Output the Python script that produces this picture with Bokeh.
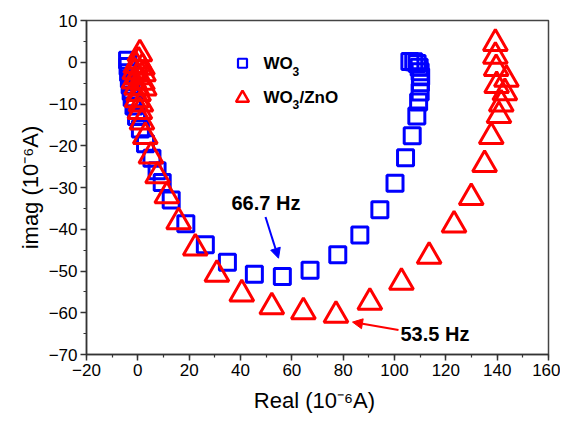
from bokeh.plotting import figure
from bokeh.models import Range1d, SingleIntervalTicker, Arrow, NormalHead, Label, Title
from bokeh.embed import file_html
from bokeh.resources import INLINE

# ---- data ----
wo3_real = [-4.0, -3.8, -3.6, -3.3, -3.0, -2.6, -2.2, -1.5, -0.5, 1.0, 3.0, 5.5, 7.5,
            9.5, 13.0, 18.7, 26.3, 34.9, 45.4, 56.3, 67.1, 77.9, 86.5, 94.3, 100.2,
            104.3, 106.9, 108.7, 109.4, 110.0, 110.1, 110.2, 110.0, 109.6, 108.8, 107.5, 106.0]
wo3_imag = [0.5, -1.0, -2.5, -4.0, -5.5, -7.0, -8.5, -10.5, -13.0, -16.0, -19.5, -23.0, -26.0,
            -28.8, -33.0, -38.7, -43.7, -47.9, -50.8, -51.3, -49.8, -46.1, -41.4, -35.3, -29.0,
            -22.9, -17.6, -12.9, -9.5, -7.1, -4.9, -3.5, -2.3, -1.2, -0.3, 0.1, 0.2]

zno_real = [0.8, 0.3, -0.8, 1.8, -1.2, 2.2, 0.0, -1.5, 1.8, -0.5, 2.5, 0.3, -0.3, 1.2, 0.8,
            1.6, 2.9, 5.1, 7.7, 11.3, 15.9, 22.4, 30.8, 40.5, 52.2, 64.5, 77.2, 90.4,
            102.7, 113.5, 123.2, 129.9, 135.1, 137.7, 140.7, 141.6, 143.0, 139.8, 143.6,
            139.6, 139.3, 139.3]
zno_imag = [2.0, 0.3, -0.8, -1.2, -2.3, -2.8, -3.5, -4.5, -4.8, -6.0, -6.2, -7.5, -9.0, -10.0, -11.8,
            -14.3, -17.8, -22.5, -27.2, -32.0, -38.2, -44.5, -50.8, -55.5, -58.6, -59.8, -60.6, -57.5,
            -52.7, -46.5, -39.0, -32.4, -24.5, -17.8, -12.8, -10.0, -7.3, -5.6, -4.1,
            -1.5, 1.4, 4.5]

series_names = ["WO", "3", "/ZnO"]
note_low = "66.7 Hz"
note_high = "53.5 Hz"
x_title = "Real  (10\u207b\u2076A)"
y_title = "imag (10\u207b\u2076A)"

FONT = "Liberation Sans"
BLUE = "#0000ff"
RED = "#ff0000"

# page-pixel -> data helpers (frame: x 86..548, y 20..360 on the page)
def X(px):
    return -20 + (px - 86) * 180.0 / 462.0

def Y(py):
    return 10 - (py - 20) * 80.0 / 340.0

p = figure(width=560, height=415, x_range=Range1d(-20, 160), y_range=Range1d(-70, 10),
           output_backend="svg", toolbar_location=None,
           min_border_left=86, min_border_right=12, min_border_top=20, min_border_bottom=55)

p.xgrid.visible = False
p.ygrid.visible = False
p.outline_line_color = "#444444"
p.outline_line_width = 1.5
p.background_fill_color = "white"
p.border_fill_color = "white"

p.xaxis.ticker = SingleIntervalTicker(interval=20, num_minor_ticks=2)
p.yaxis.ticker = SingleIntervalTicker(interval=10, num_minor_ticks=2)
p.xaxis.axis_label = x_title
for ax in (p.xaxis[0], p.yaxis[0]):
    ax.axis_label_text_font = FONT
    ax.axis_label_text_font_size = "22px"
    ax.axis_label_text_font_style = "normal"
    ax.axis_label_text_color = "black"
    ax.major_label_text_font = FONT
    ax.major_label_text_font_size = "17px"
    ax.major_label_text_color = "black"
    ax.axis_line_color = "#333333"
    ax.axis_line_width = 1.5
    ax.major_tick_line_color = "#333333"
    ax.minor_tick_line_color = "#333333"
    ax.major_tick_line_width = 1.5
    ax.minor_tick_line_width = 1.2
    ax.major_tick_in = 0
    ax.major_tick_out = 6
    ax.minor_tick_in = 0
    ax.minor_tick_out = 3
    ax.major_label_standoff = 3
p.xaxis.axis_label_standoff = 9

# y title placed in the left panel, shifted upward like the reference
p.add_layout(Title(text=y_title, align="center", offset=18, text_font=FONT,
                   text_font_size="22px", text_font_style="normal", text_color="black",
                   standoff=6), "left")

p.scatter(wo3_real, wo3_imag, marker="square", size=16, line_color=BLUE, line_width=3,
          fill_color=None)
p.scatter(zno_real, zno_imag, marker="triangle", size=24, line_color=RED, line_width=3,
          fill_color=None)

# legend (drawn manually to allow subscripts)
p.scatter([X(242)], [Y(63.5)], marker="square", size=9, line_color=BLUE, line_width=2.2,
          fill_color=None)
p.scatter([X(242)], [Y(99)], marker="triangle", size=13, line_color=RED, line_width=2.5,
          fill_color=None)

def lab(px, py, text, size, color="black", bold=True):
    p.add_layout(Label(x=X(px), y=Y(py), text=text, text_font=FONT, text_font_size=size,
                       text_font_style="bold" if bold else "normal", text_color=color,
                       text_baseline="middle", text_align="left"))

lab(263, 64, series_names[0], "17px")
lab(292, 72, series_names[1], "12px")
lab(263, 98, series_names[0], "17px")
lab(292, 106, series_names[1], "12px")
lab(299, 98, series_names[2], "17px")

# annotations
lab(231, 206, note_low, "20px")
lab(400, 339, note_high, "20px")

p.add_layout(Arrow(x_start=X(265), y_start=Y(220), x_end=X(278), y_end=Y(262),
                   line_color=BLUE, line_width=2,
                   end=NormalHead(size=10, fill_color=BLUE, line_color=BLUE)))
p.add_layout(Arrow(x_start=X(398), y_start=Y(335), x_end=X(352), y_end=Y(327),
                   line_color=RED, line_width=2,
                   end=NormalHead(size=10, fill_color=RED, line_color=RED)))

open("out.html", "w").write(file_html(p, INLINE))
